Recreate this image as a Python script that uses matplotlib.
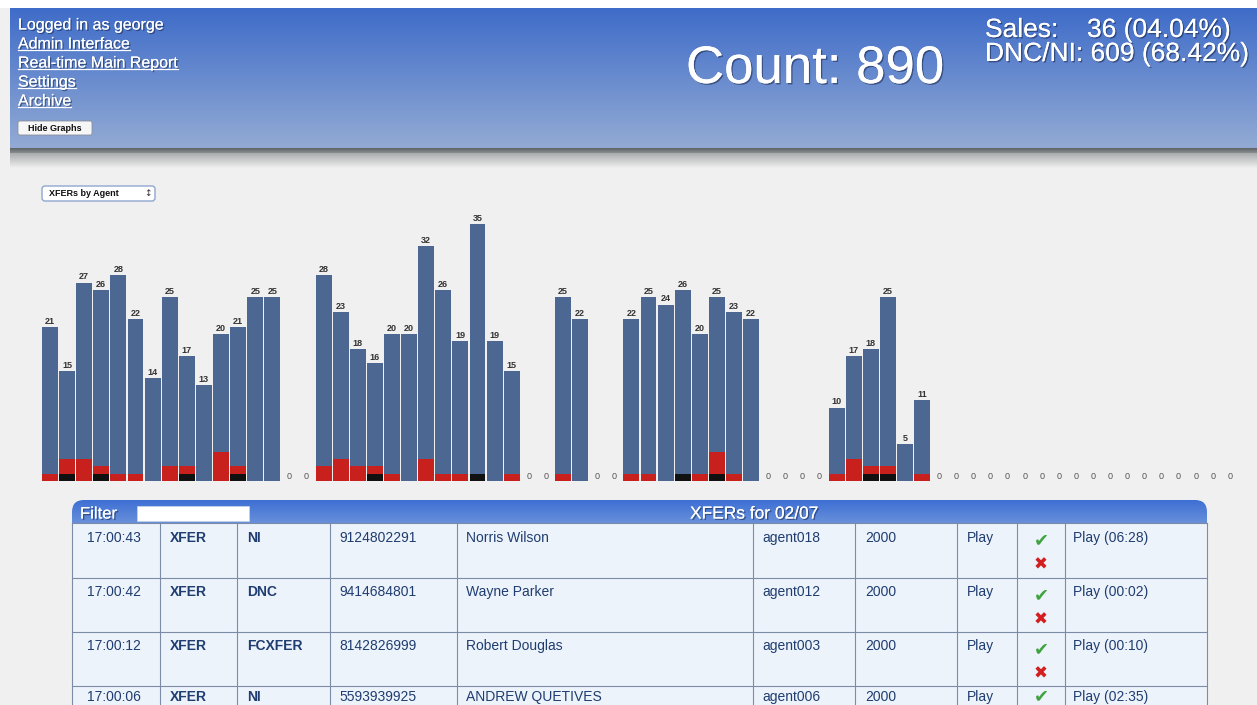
import matplotlib
matplotlib.use('Agg')
import numpy as np
import matplotlib.pyplot as plt
import matplotlib.colors as mcolors
import matplotlib.patheffects as pe
from matplotlib.patches import Rectangle, FancyBboxPatch

plt.rcParams['font.family'] = ['Liberation Sans', 'DejaVu Sans']

# ---- data -------------------------------------------------------------
totals = [21, 15, 27, 26, 28, 22, 14, 25, 17, 13, 20, 21, 25, 25,
          0, 0,
          28, 23, 18, 16, 20, 20, 32, 26, 19, 35, 19, 15,
          0, 0,
          25, 22,
          0, 0,
          22, 25, 24, 26, 20, 25, 23, 22,
          0, 0, 0, 0,
          10, 17, 18, 25, 5, 11,
          0, 0, 0, 0, 0, 0, 0, 0, 0, 0, 0, 0, 0, 0, 0, 0, 0, 0]
red = [1, 2, 3, 1, 1, 1, 0, 2, 1, 0, 4, 1, 0, 0,
       0, 0,
       2, 3, 2, 1, 1, 0, 3, 1, 1, 0, 0, 1,
       0, 0,
       1, 0,
       0, 0,
       1, 1, 0, 0, 1, 3, 1, 0,
       0, 0, 0, 0,
       1, 3, 1, 1, 0, 1,
       0, 0, 0, 0, 0, 0, 0, 0, 0, 0, 0, 0, 0, 0, 0, 0, 0, 0]
black = [0, 1, 0, 1, 0, 0, 0, 0, 1, 0, 0, 1, 0, 0,
         0, 0,
         0, 0, 0, 1, 0, 0, 0, 0, 0, 1, 0, 0,
         0, 0,
         0, 0,
         0, 0,
         0, 0, 0, 1, 0, 1, 0, 0,
         0, 0, 0, 0,
         0, 0, 1, 1, 0, 0,
         0, 0, 0, 0, 0, 0, 0, 0, 0, 0, 0, 0, 0, 0, 0, 0, 0, 0]

times = ['17:00:43', '17:00:42', '17:00:12', '17:00:06']
kinds = ['XFER', 'XFER', 'XFER', 'XFER']
statuses = ['NI', 'DNC', 'FCXFER', 'NI']
phones = ['9124802291', '9414684801', '8142826999', '5593939925']
names = ['Norris Wilson', 'Wayne Parker', 'Robert Douglas', 'ANDREW QUETIVES']
agents = ['agent018', 'agent012', 'agent003', 'agent006']
campaigns = ['2000', '2000', '2000', '2000']
recordings = ['Play', 'Play', 'Play', 'Play']
plays = ['Play (06:28)', 'Play (00:02)', 'Play (00:10)', 'Play (02:35)']

# ---- figure -----------------------------------------------------------
W, H = 1257, 705
fig = plt.figure(figsize=(W / 100, H / 100), dpi=100, facecolor='#f0f0f0')
bg = fig.add_axes([0, 0, 1, 1])
bg.set_axis_off()


def vgrad(ax, x0, x1, y0, y1, c0, c1, z=1, clip=None):
    a = np.array(mcolors.to_rgb(c0))
    b = np.array(mcolors.to_rgb(c1))
    t = np.linspace(0, 1, 256)[:, None]
    img = (a + (b - a) * t)[:, None, :]
    im = ax.imshow(img, extent=(x0, x1, y1, y0), aspect='auto', zorder=z,
                   interpolation='bilinear')
    if clip is not None:
        im.set_clip_path(clip)
    return im


shadow = [pe.withSimplePatchShadow(offset=(1, -1), shadow_rgbFace='#1c2c50', alpha=0.6),
          pe.Normal()]

# header band
bg.add_patch(Rectangle((0, 0), W, 8, facecolor='white', edgecolor='none', zorder=1))
vgrad(bg, 10, W, 8, 148, '#3f6cc9', '#93abd4', z=2)
vgrad(bg, 10, W, 148, 153, '#5d6264', '#8a8e90', z=2)
vgrad(bg, 10, W, 153, 168, '#a9acad', '#f0f0f0', z=2)

links = ['Admin Interface', 'Real-time Main Report', 'Settings', 'Archive']
bg.text(18, 25, 'Logged in as george', fontsize=11.5, color='white', va='center',
        zorder=5, path_effects=shadow)
link_texts = []
for i, s in enumerate(links):
    t = bg.text(18, 44 + 19 * i, s, fontsize=11.5, color='white', va='center',
                zorder=5, path_effects=shadow)
    link_texts.append(t)

bg.add_patch(FancyBboxPatch((18, 121), 74, 14, boxstyle='round,pad=0,rounding_size=2',
                            facecolor='#f6f6f6', edgecolor='#8a8f99', lw=0.6, zorder=5))
bg.text(55, 128.5, 'Hide Graphs', fontsize=6.5, fontweight='bold', color='#111',
        ha='center', va='center', zorder=6)

bg.text(686, 83, 'Count: 890', fontsize=38, color='white', va='baseline',
        zorder=5, path_effects=shadow)
bg.text(985, 37, 'Sales:', fontsize=19, color='white', va='baseline',
        zorder=5, path_effects=shadow)
bg.text(1087, 37, '36 (04.04%)', fontsize=19, color='white', va='baseline',
        zorder=5, path_effects=shadow)
bg.text(985, 61, 'DNC/NI: 609 (68.42%)', fontsize=19, color='white', va='baseline',
        zorder=5, path_effects=shadow)

# dropdown
bg.add_patch(FancyBboxPatch((42, 186), 113, 15, boxstyle='round,pad=0,rounding_size=3',
                            facecolor='white', edgecolor='#8fa6cf', lw=1.0, zorder=5))
bg.text(49, 193.5, 'XFERs by Agent', fontsize=6.5, fontweight='bold', color='#111',
        va='center', zorder=6)
bg.text(148, 193.5, '↕', fontsize=6.5, color='#333', va='center', ha='center', zorder=6,
        family=['DejaVu Sans'])

# ---- table ------------------------------------------------------------
tx0, tx1 = 72, 1207
cols = [72, 160, 237, 330, 457, 753, 855, 957, 1017, 1065, 1207]
row_tops = [523, 578, 632, 686]
row_text_y = [538, 592, 646, 697]
bg.add_patch(Rectangle((tx0, 523), tx1 - tx0, H - 523, facecolor='#edf3fb',
                       edgecolor='none', zorder=3))
head = FancyBboxPatch((tx0, 500), tx1 - tx0, 40, boxstyle='round,pad=0,rounding_size=12',
                      facecolor='none', edgecolor='none', zorder=3)
bg.add_patch(head)
vgrad(bg, tx0, tx1, 500, 540, '#3d6fd4', '#88a8df', z=3, clip=head)
bg.add_patch(Rectangle((tx0, 523), tx1 - tx0, H - 523, facecolor='#edf3fb',
                       edgecolor='none', zorder=3.5))
bg.text(80, 514, 'Filter', fontsize=12, color='white', va='center', zorder=6,
        path_effects=shadow)
bg.add_patch(Rectangle((137, 506), 112, 15, facecolor='white', edgecolor='#c8d4ea',
                       lw=0.5, zorder=6))
bg.text(690, 514, 'XFERs for 02/07', fontsize=12.5, color='white', va='center', zorder=6,
        path_effects=shadow)

line_c = '#7c8ba6'
for y in row_tops:
    bg.plot([tx0, tx1], [y, y], color=line_c, lw=0.8, zorder=4)
for x in cols:
    bg.plot([x, x], [523, H], color=line_c, lw=0.8, zorder=4)

txt_c = '#1f3d70'
for i, top in enumerate(row_tops):
    y = row_text_y[i]
    row = [(87, times[i], 'normal'), (170, kinds[i], 'bold'), (247, statuses[i], 'bold'),
           (339, phones[i], 'normal'), (466, names[i], 'normal'), (762, agents[i], 'normal'),
           (865, campaigns[i], 'normal'), (967, recordings[i], 'normal'),
           (1073, plays[i], 'normal')]
    for x, s, w in row:
        bg.text(x, y, s, fontsize=10, color=txt_c, fontweight=w, va='center',
                zorder=6, clip_on=True)
    # green tick / red cross; the last row is cut off by the bottom edge
    bg.text(1041, min(top + 17, 696), '✔', fontsize=13, color='#3fa43f', ha='center',
            va='center', zorder=6, family=['DejaVu Sans'], clip_on=True)
    if top + 50 < H:
        bg.text(1041, top + 42, '✖', fontsize=12, color='#d31f1f', ha='center',
                va='center', zorder=6, family=['DejaVu Sans'], clip_on=True)

bg.set_xlim(0, W)
bg.set_ylim(H, 0)

# ---- bar chart --------------------------------------------------------
pitch = 17.1
n = len(totals)
left_px = 50 - pitch
ax = fig.add_axes([left_px / W, (H - 481) / H, (n + 1) * pitch / W, 40 * 7.35 / H])
ax.set_facecolor('none')
ax.set_axis_off()
ax.set_zorder(2)

x = np.arange(n)
tot = np.array(totals)
rd = np.array(red)
bk = np.array(black)
blue = tot - rd - bk
bw = 0.93
ax.bar(x, bk, width=bw, color='#111111', linewidth=0)
ax.bar(x, rd, width=bw, bottom=bk, color='#c8201c', linewidth=0)
ax.bar(x, blue, width=bw, bottom=bk + rd, color='#4d6793', linewidth=0)

for i, v in enumerate(totals):
    if v > 0:
        ax.text(i, v + 0.15, str(v), fontsize=6.5, fontweight='bold', color='#333',
                ha='center', va='bottom')
    else:
        ax.text(i, 0.55, '0', fontsize=6.5, color='#555', ha='center', va='center')

ax.set_xlim(-1, n)
ax.set_ylim(0, 40)

# underline the links
fig.canvas.draw()
inv = bg.transData.inverted()
for t in link_texts:
    bb = t.get_window_extent()
    (xa, _), (xb, _) = inv.transform([(bb.x0, 0), (bb.x1, 0)])
    _, yl = inv.transform((0, bb.y0 + 1.5))
    bg.plot([xa, xb], [yl, yl], color='white', lw=0.9, zorder=5)

fig.savefig('out.png', dpi=100, facecolor=fig.get_facecolor())
